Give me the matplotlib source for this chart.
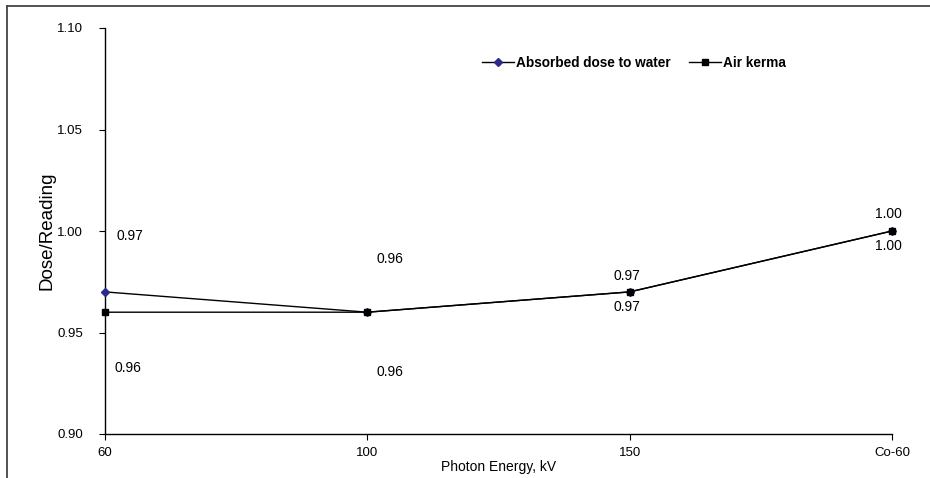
import matplotlib.pyplot as plt
from matplotlib.lines import Line2D

plt.rcParams['font.family'] = ['Liberation Sans', 'DejaVu Sans']

energies = ["60", "100", "150", "Co-60"]
water_dose = [0.97, 0.96, 0.97, 1.00]
air_kerma = [0.96, 0.96, 0.97, 1.00]

# label offsets in pixels (Excel-style data label placement)
water_offsets = [(25, 56), (23, 53), (-3, 16), (-4, 17)]
air_offsets = [(23, -56), (23, -60), (-3, -15), (-4, -15)]

fig = plt.figure(figsize=(9.3, 4.78), dpi=100)
ax = fig.add_axes([105 / 930, 1 - 434 / 478, (892 - 105) / 930, (434 - 28) / 478])

x = list(range(len(energies)))
ax.plot(x, water_dose, color="black", lw=1.0, zorder=2, clip_on=False)
ax.plot(x, water_dose, ls="none", marker="D", ms=4, color="#2b2b8c", zorder=3, clip_on=False)
ax.plot(x, air_kerma, color="black", lw=1.0, marker="s", ms=5, zorder=4, clip_on=False)

for i in x:
    ax.annotate("%.2f" % water_dose[i], (i, water_dose[i]), xytext=water_offsets[i],
                textcoords="offset pixels", ha="center", va="center", fontsize=10)
    ax.annotate("%.2f" % air_kerma[i], (i, air_kerma[i]), xytext=air_offsets[i],
                textcoords="offset pixels", ha="center", va="center", fontsize=10)

ax.set_xlim(0, 3)
ax.set_ylim(0.90, 1.10)
ax.set_xticks(x)
ax.set_xticklabels(energies)
ax.set_yticks([0.90, 0.95, 1.00, 1.05, 1.10])
ax.set_yticklabels(["0.90", "0.95", "1.00", "1.05", "1.10"])
ax.tick_params(axis="both", labelsize=9.5, length=4, width=0.8)
ax.tick_params(axis="y", pad=12)
ax.tick_params(axis="x", pad=5)
for s in ["top", "right"]:
    ax.spines[s].set_visible(False)
ax.spines["left"].set_linewidth(1.0)
ax.spines["bottom"].set_linewidth(1.0)

ax.set_ylabel("Dose/Reading", fontsize=13.5, labelpad=1)
ax.set_xlabel("Photon Energy, kV", fontsize=10, labelpad=1)

handles = [
    Line2D([], [], color="black", lw=1.0, marker="D", ms=4,
           markerfacecolor="#2b2b8c", markeredgecolor="#2b2b8c"),
    Line2D([], [], color="black", lw=1.0, marker="s", ms=5),
]
fig.legend(handles, ["Absorbed dose to water", "Air kerma"], ncol=2,
           loc="center", bbox_to_anchor=(634 / 930, 1 - 63 / 478), frameon=False,
           prop={"weight": "bold", "size": 9.8}, handlelength=2.4, handletextpad=0.15,
           columnspacing=1.3)

# outer frame (top and left edges)
fig.add_artist(Line2D([7 / 930, 1], [1 - 6 / 478, 1 - 6 / 478], color="#444444", lw=1.3))
fig.add_artist(Line2D([7 / 930, 7 / 930], [0, 1 - 6 / 478], color="#444444", lw=1.3))

fig.savefig("out.png", dpi=100)
